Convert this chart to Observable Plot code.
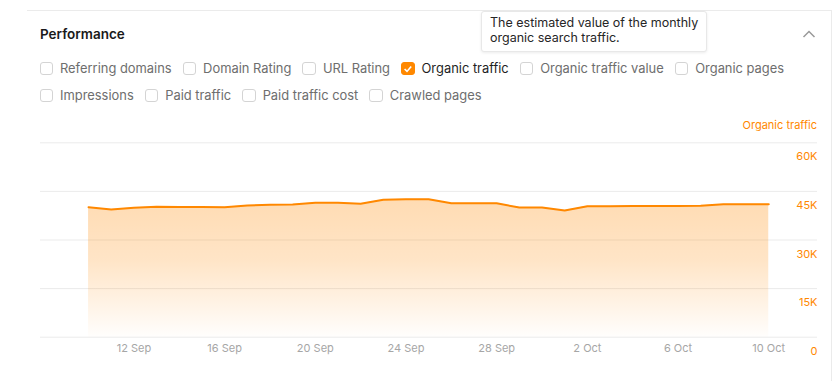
<!DOCTYPE html>
<html>
<head>
<meta charset="utf-8">
<script src="https://cdn.jsdelivr.net/npm/d3@7"></script>
<script src="https://cdn.jsdelivr.net/npm/@observablehq/plot@0.6"></script>
<style>
  html, body { margin: 0; padding: 0; background: #fff; }
  body { width: 835px; height: 381px; position: relative; overflow: hidden; font-family: Inter, "Noto Sans", sans-serif; }
  .card { position: absolute; left: 27px; top: 10px; width: 805px; height: 400px; border-top: 1px solid #ebebeb; border-right: 1px solid #ebebeb; box-sizing: border-box; }
  .title { position: absolute; left: 40px; top: 25px; font-size: 13.5px; font-weight: 600; color: #1a1a1a; line-height: 18px; }
  .row { position: absolute; left: 39.5px; display: flex; align-items: center; height: 16px; }
  .item { display: flex; align-items: center; margin-right: 11px; }
  .box { width: 11.5px; height: 11.5px; border: 1px solid #d4d4d4; border-radius: 3px; box-sizing: content-box; margin-right: 7px; position: relative; }
  .box.on { background: #ff8800; border-color: #ff8800; }
  .box svg { position: absolute; left: 1px; top: 1px; display: block; }
  .lbl { font-size: 12.9px; color: #6e6e6e; white-space: nowrap; }
  .lbl.on { color: #1f1f1f; }
  .tip { position: absolute; left: 481px; top: 11px; width: 226px; height: 41px; box-sizing: border-box; background: #fff; border: 1px solid #e8e8e8; border-radius: 3px; box-shadow: 0 1px 3px rgba(0,0,0,0.08); padding: 3px 0 0 8px; font-size: 12.5px; line-height: 15px; color: #262626; }
  .chev { position: absolute; left: 802px; top: 29px; width: 14px; height: 10px; }
  .chev svg { display: block; }
  .axlabel { position: absolute; right: 18px; top: 118px; font-size: 11px; color: #ff8800; }
  #chart { position: absolute; left: 0; top: 110px; }
  #chart svg { display: block; }
</style>
</head>
<body>
<div class="card"></div>
<div class="title">Performance</div>
<div class="chev"><svg width="14" height="10"><polyline points="1.5,8 7,2.5 12.5,8" fill="none" stroke="#9a9a9a" stroke-width="1.5"/></svg></div>
<div class="row" id="row1" style="top:60.5px"></div>
<div class="row" id="row2" style="top:87.5px"></div>
<div class="tip">The estimated value of the monthly<br>organic search traffic.</div>
<div class="axlabel">Organic traffic</div>
<div id="chart"></div>
<script>
// ---- data ----
const dates = [
  "2023-09-10","2023-09-11","2023-09-12","2023-09-13","2023-09-14","2023-09-15","2023-09-16",
  "2023-09-17","2023-09-18","2023-09-19","2023-09-20","2023-09-21","2023-09-22","2023-09-23",
  "2023-09-24","2023-09-25","2023-09-26","2023-09-27","2023-09-28","2023-09-29","2023-09-30",
  "2023-10-01","2023-10-02","2023-10-03","2023-10-04","2023-10-05","2023-10-06","2023-10-07",
  "2023-10-08","2023-10-09","2023-10-10"
];
const organicTraffic = [
  40120, 39410, 39940, 40250, 40190, 40190, 40120,
  40650, 40900, 40960, 41480, 41480, 41170, 42410,
  42590, 42590, 41360, 41360, 41330, 40030, 40030,
  39100, 40430, 40430, 40460, 40490, 40520, 40560,
  41050, 41050, 41050
];
const yTicks = [0, 15000, 30000, 45000, 60000];
const yTickLabels = ["0", "15K", "30K", "45K", "60K"];
const xTickDates = ["2023-09-12","2023-09-16","2023-09-20","2023-09-24","2023-09-28","2023-10-02","2023-10-06","2023-10-10"];
const xTickLabels = ["12 Sep","16 Sep","20 Sep","24 Sep","28 Sep","2 Oct","6 Oct","10 Oct"];
const metricsRow1 = ["Referring domains","Domain Rating","URL Rating","Organic traffic","Organic traffic value","Organic pages"];
const metricsRow2 = ["Impressions","Paid traffic","Paid traffic cost","Crawled pages"];
const selectedMetric = "Organic traffic";

// ---- checkbox rows ----
function fillRow(id, names) {
  const row = document.getElementById(id);
  for (const n of names) {
    const on = n === selectedMetric;
    const item = document.createElement("div");
    item.className = "item";
    item.innerHTML = `<div class="box${on ? " on" : ""}">${on ? '<svg width="10" height="10"><polyline points="1.6,5 4,7.4 8.2,2.4" fill="none" stroke="#fff" stroke-width="1.6"/></svg>' : ""}</div><span class="lbl${on ? " on" : ""}">${n}</span>`;
    row.appendChild(item);
  }
}
fillRow("row1", metricsRow1);
fillRow("row2", metricsRow2);

// ---- chart ----
const parse = d3.utcParse("%Y-%m-%d");
const data = dates.map((d, i) => ({date: parse(d), value: organicTraffic[i]}));
const xt = xTickDates.map((d, i) => ({date: parse(d), label: xTickLabels[i]}));
const yt = yTicks.map((v, i) => ({v, label: yTickLabels[i]}));
const [d0, d1] = d3.extent(data, d => d.date);
const padBefore = 2.12 * 24 * 3600e3, padAfter = 2.15 * 24 * 3600e3;

const orange = "#ff8800";
const svg = Plot.plot({
  width: 835,
  height: 260,
  marginLeft: 40,
  marginRight: 18,
  marginTop: 32.3,
  marginBottom: 33.3,
  style: {fontFamily: "Inter, sans-serif", fontSize: "11px", background: "transparent"},
  x: {type: "utc", domain: [new Date(+d0 - padBefore), new Date(+d1 + padAfter)], axis: null},
  y: {domain: [0, 60000], axis: null},
  marks: [
    Plot.ruleY(yt, {y: "v", stroke: "#ebebeb", strokeWidth: 1}),
    Plot.areaY(data, {x: "date", y: "value", fill: "url(#orgGrad)"}),
    Plot.lineY(data, {x: "date", y: "value", stroke: orange, strokeWidth: 2}),
    Plot.text(yt, {y: "v", text: "label", frameAnchor: "right", textAnchor: "end", dy: 14, fill: orange, fontSize: 11}),
    Plot.text(xt, {x: "date", text: "label", frameAnchor: "bottom", dy: 14.3, fill: "#a6a6a6", fontSize: 11})
  ]
});
const defs = d3.select(svg).insert("defs", ":first-child");
const g = defs.append("linearGradient").attr("id", "orgGrad").attr("x1", 0).attr("x2", 0).attr("y1", 0).attr("y2", 1);
g.append("stop").attr("offset", "0%").attr("stop-color", orange).attr("stop-opacity", 0.3);
g.append("stop").attr("offset", "45%").attr("stop-color", orange).attr("stop-opacity", 0.22);
g.append("stop").attr("offset", "100%").attr("stop-color", orange).attr("stop-opacity", 0.01);
document.getElementById("chart").appendChild(svg);
</script>
</body>
</html>
